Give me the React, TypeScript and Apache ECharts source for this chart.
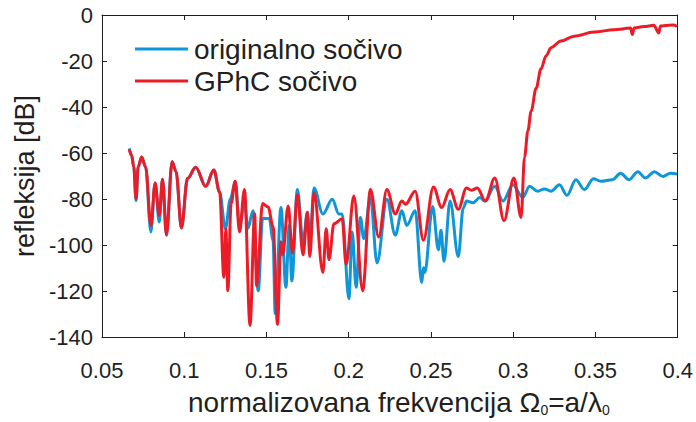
import React, { useEffect, useRef } from "react";
import * as echarts from "echarts";

const xTicks = [0.05, 0.1, 0.15, 0.2, 0.25, 0.3, 0.35, 0.4];
const yTicks = [-140, -120, -100, -80, -60, -40, -20, 0];

const seriesNames = ["originalno sočivo", "GPhC sočivo"];

const originalFreq = [
  0.0666, 0.068, 0.0693, 0.0707, 0.072, 0.0741, 0.0765, 0.0797, 0.0823, 0.0848,
  0.0868, 0.0892, 0.0926, 0.095, 0.0983, 0.102, 0.107, 0.113, 0.118, 0.1215,
  0.125, 0.128, 0.131, 0.1336, 0.1366, 0.1387, 0.1418, 0.145, 0.1476, 0.1517,
  0.154, 0.1553, 0.1588, 0.1618, 0.1638, 0.1654, 0.1688, 0.1722, 0.1749, 0.1763,
  0.1789, 0.1843, 0.19, 0.194, 0.196, 0.2001, 0.2021, 0.2045, 0.2071, 0.2091,
  0.2132, 0.2172, 0.2232, 0.2283, 0.2323, 0.2353, 0.2404, 0.2444, 0.2454, 0.2462,
  0.251, 0.2545, 0.2561, 0.2579, 0.2616, 0.2666, 0.2696, 0.2716, 0.2756, 0.2797,
  0.2827, 0.2888, 0.2938, 0.2998, 0.3058, 0.3099, 0.3149, 0.319, 0.323, 0.3281,
  0.3327, 0.3381, 0.3432, 0.3488, 0.3532, 0.3603, 0.3653, 0.3704, 0.3758, 0.3804,
  0.3858, 0.3911, 0.3955, 0.3996,
];
const originalDb = [
  -58, -61, -66, -80.8, -66, -61.7, -66, -94.3, -73, -90,
  -71.4, -95.7, -63.8, -68, -92.6, -71, -66.2, -74.5, -67.4, -77,
  -93, -80, -72.3, -91.5, -81.6, -92.8, -85.1, -119.9, -88.5, -88.5,
  -98, -129.8, -83.7, -118.4, -91.5, -115.6, -75.9, -98.6, -85.8, -98.6,
  -75.2, -86.5, -80.1, -86.5, -86.5, -123.4, -94.3, -118.4, -88, -97.2,
  -79.4, -107.8, -80.1, -95.7, -85.1, -91.5, -85.1, -116.3, -109.9, -112,
  -83.3, -102.1, -93.6, -107.1, -80.9, -105, -84, -80.9, -81.6, -79.4,
  -80.9, -74.5, -80.9, -73.8, -79.4, -74.5, -76.6, -75.6, -76.6, -73.8,
  -78.4, -71.6, -75.9, -71.2, -72.3, -71.6, -68.8, -71.6, -68.1, -70.9,
  -68.1, -70.2, -68.8, -69.1,
];

const gphcFreq = [
  0.0666, 0.068, 0.0693, 0.0707, 0.072, 0.0741, 0.0765, 0.0797, 0.0823, 0.0848,
  0.0868, 0.0892, 0.0926, 0.095, 0.0983, 0.102, 0.107, 0.113, 0.118, 0.1215,
  0.1241, 0.1253, 0.1265, 0.1285, 0.131, 0.1336, 0.1366, 0.14, 0.1428, 0.144,
  0.1476, 0.151, 0.154, 0.1567, 0.1588, 0.1598, 0.1632, 0.1658, 0.1688, 0.1722,
  0.1749, 0.1763, 0.1789, 0.1843, 0.1863, 0.188, 0.191, 0.196, 0.1984, 0.2031,
  0.2085, 0.2132, 0.2182, 0.2232, 0.2283, 0.2323, 0.2345, 0.2404, 0.2454, 0.2515,
  0.2565, 0.2616, 0.2666, 0.2716, 0.2746, 0.2782, 0.2831, 0.2888, 0.2944, 0.3004,
  0.3048, 0.3069, 0.3089, 0.3109, 0.3139, 0.3169, 0.32, 0.323, 0.329, 0.3371,
  0.3492, 0.3613, 0.3713, 0.3724, 0.3735, 0.3794, 0.3855, 0.3885, 0.3895, 0.3915,
  0.3976, 0.3996,
];
const gphcDb = [
  -58.5, -61, -66, -80, -66, -61.7, -66, -91.5, -73, -87.2,
  -71.4, -95.7, -63.8, -68, -92.6, -71, -66.2, -74.5, -67.4, -77,
  -114, -93, -119.9, -82, -72.3, -94.3, -75.9, -135, -86.4, -117.7,
  -82, -83.5, -92, -134.5, -98.6, -104.3, -83, -103.5, -78, -104.3,
  -85.8, -105, -77.3, -112, -92.9, -106.4, -90.8, -88.6, -108.5, -78.7,
  -119.9, -75.9, -96.5, -75.9, -86.5, -80.9, -82.3, -76.6, -97.9, -74.8,
  -83.7, -75.9, -84.5, -75.2, -76.2, -75.2, -80.9, -70.9, -89.4, -70.9,
  -88, -61.7, -50.4, -41.8, -31.9, -23.4, -17.7, -14.2, -11.3, -9.2,
  -7.4, -6.4, -5.7, -8.5, -5.6, -5.0, -4.5, -7.8, -4.8, -4.7,
  -4.3, -5.0,
];

const BLUE = "#0f96d8";
const RED = "#ec1c27";
const INK = "#231f20";
const FONT = "Liberation Sans, Arial, Helvetica, sans-serif";

export default function App() {
  const ref = useRef<HTMLDivElement>(null);
  useEffect(() => {
    document.body.style.margin = "0";
    if (!ref.current) return;
    const chart = echarts.init(ref.current, null, { renderer: "svg" });
    const fmt = (v: number) => String(+v.toFixed(2));
    const axisCommon = {
      axisLine: { show: true, onZero: false, lineStyle: { color: INK, width: 1 } },
      axisTick: { show: true, inside: true, length: 5, lineStyle: { color: INK } },
      splitLine: { show: false },
    };
    chart.setOption({
      animation: false,
      backgroundColor: "#ffffff",
      textStyle: { fontFamily: FONT, color: INK },
      grid: { left: 102, right: 15, top: 15, bottom: 78, containLabel: false },
      legend: {
        show: true,
        orient: "vertical",
        left: 130,
        top: 30,
        itemWidth: 53,
        itemHeight: 14,
        itemGap: 4,
        icon: "path://M0,6 L55,6 L55,9 L0,9 Z",
        textStyle: { fontSize: 28, color: INK, fontFamily: FONT, padding: [0, 0, 0, 1] },
        data: seriesNames,
      },
      xAxis: [
        {
          type: "value",
          min: xTicks[0],
          max: xTicks[xTicks.length - 1],
          interval: 0.05,
          position: "bottom",
          ...axisCommon,
          axisLabel: { fontSize: 22, color: INK, margin: 22, formatter: fmt, fontFamily: FONT },
          name: "normalizovana frekvencija Ω{sub|0}=a/λ{sub|0}",
          nameLocation: "middle",
          nameGap: 50,
          nameTextStyle: {
            fontSize: 28,
            color: INK,
            fontFamily: FONT,
            padding: [0, 0, 0, 18],
            rich: { sub: { fontSize: 14, verticalAlign: "bottom", padding: [16, 0, 0, 0], fontFamily: FONT, color: INK } },
          },
        },
        {
          type: "value",
          min: xTicks[0],
          max: xTicks[xTicks.length - 1],
          interval: 0.05,
          position: "top",
          ...axisCommon,
          axisLabel: { show: false },
        },
      ],
      yAxis: [
        {
          type: "value",
          min: yTicks[0],
          max: yTicks[yTicks.length - 1],
          interval: 20,
          position: "left",
          ...axisCommon,
          axisLabel: { fontSize: 22, color: INK, margin: 9, fontFamily: FONT },
          name: "refleksija [dB]",
          nameLocation: "middle",
          nameGap: 64,
          nameTextStyle: { fontSize: 27, color: INK, fontFamily: FONT },
        },
        {
          type: "value",
          min: yTicks[0],
          max: yTicks[yTicks.length - 1],
          interval: 20,
          position: "right",
          ...axisCommon,
          axisLabel: { show: false },
        },
      ],
      series: [
        {
          name: seriesNames[0],
          type: "line",
          data: originalFreq.map((f, i) => [f, originalDb[i]]),
          showSymbol: false,
          symbol: "none",
          smooth: 0.35,
          smoothMonotone: "x",
          lineStyle: { color: BLUE, width: 3 },
          itemStyle: { color: BLUE },
          z: 2,
        },
        {
          name: seriesNames[1],
          type: "line",
          data: gphcFreq.map((f, i) => [f, gphcDb[i]]),
          showSymbol: false,
          symbol: "none",
          smooth: 0.35,
          smoothMonotone: "x",
          lineStyle: { color: RED, width: 3 },
          itemStyle: { color: RED },
          z: 3,
        },
      ],
    });
    return () => chart.dispose();
  }, []);
  return <div ref={ref} style={{ width: 696, height: 422 }} />;
}
